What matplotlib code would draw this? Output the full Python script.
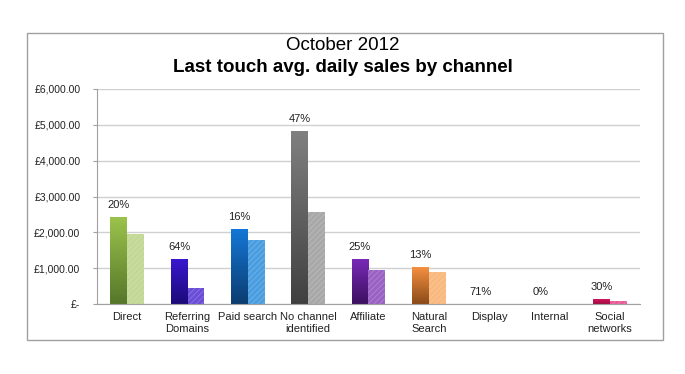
import numpy as np
import matplotlib
matplotlib.use('Agg')
import matplotlib.pyplot as plt
from matplotlib.colors import LinearSegmentedColormap
from matplotlib.patches import Rectangle
from matplotlib.ticker import FuncFormatter

channels = ['Direct', 'Referring\nDomains', 'Paid search', 'No channel\nidentified',
            'Affiliate', 'Natural\nSearch', 'Display', 'Internal', 'Social\nnetworks']
sales_main = [2430, 1260, 2095, 4830, 1260, 1030, 0, 0, 140]
sales_second = [1960, 450, 1790, 2570, 950, 890, 0, 0, 85]
pct_labels = ['20%', '64%', '16%', '47%', '25%', '13%', '71%', '0%', '30%']

# gradient colours (top, bottom) for the main bars, flat colours for second bars
main_top = ['#9cc44c', '#3a18d0', '#1478d8', '#808080', '#7a2ab8', '#f59040', '#999999', '#999999', '#d81860']
main_bottom = ['#56762a', '#1c0a78', '#0c3c70', '#404040', '#3c1060', '#8a4a18', '#555555', '#555555', '#a00c40']
second_col = ['#c2d894', '#6a4ed8', '#4a9ee0', '#a8a8a8', '#9a62c4', '#f8b87e', '#cccccc', '#cccccc', '#ec5a98']

plt.rcParams['font.family'] = ['Liberation Sans', 'DejaVu Sans']
plt.rcParams['hatch.linewidth'] = 0.5

fig = plt.figure(figsize=(6.85, 3.74), dpi=100)
fig.patches.append(Rectangle((27 / 685, 1 - 340 / 374), 636 / 685, 307 / 374,
                             transform=fig.transFigure, fill=False, edgecolor='#a0a0a0', lw=1))
ax = fig.add_axes([97 / 685, 1 - 304 / 374, 543 / 685, 215 / 374])

x = np.arange(len(channels))
w = 0.28
grad = np.linspace(0, 1, 256).reshape(-1, 1)
for i in range(len(channels)):
    v = sales_main[i]
    if v > 0:
        b = ax.bar(x[i] - w / 2, v, w, color='none', zorder=2)[0]
        cmap = LinearSegmentedColormap.from_list('g%d' % i, [main_bottom[i], main_top[i]])
        im = ax.imshow(grad, extent=(x[i] - w, x[i], 0, v), origin='lower',
                       aspect='auto', cmap=cmap, zorder=2)
        im.set_clip_path(b)
    if sales_second[i] > 0:
        ax.bar(x[i] + w / 2, sales_second[i], w, color=second_col[i], zorder=2,
               hatch='//////', edgecolor=(1, 1, 1, 0.25), linewidth=0)
    ax.annotate(pct_labels[i], (x[i] - w / 2, v),
                xytext=(0, 5), textcoords='offset points', ha='center', va='bottom',
                fontsize=8, color='#222222')

ax.set_xlim(-0.5, len(channels) - 0.5)
ax.set_ylim(0, 6000)
ax.set_yticks(np.arange(0, 6001, 1000))
ax.yaxis.set_major_formatter(FuncFormatter(lambda v, p: '£-' if v == 0 else '£{:,.2f}'.format(v)))
ax.set_xticks(x)
ax.set_xticklabels(channels, fontsize=8, color='#222222')
ax.tick_params(axis='x', length=0, pad=6)
ax.tick_params(axis='y', labelsize=7.5, colors='#222222', length=3, color='#a0a0a0', pad=9)
ax.grid(axis='y', color='#d0d0d0', lw=1, zorder=0)
ax.set_axisbelow(True)
for s in ['top', 'right']:
    ax.spines[s].set_visible(False)
for s in ['left', 'bottom']:
    ax.spines[s].set_color('#a0a0a0')

fig.text(0.5, 1 - 45 / 374, 'October 2012', ha='center', va='center', fontsize=13.5)
fig.text(0.5, 1 - 68 / 374, 'Last touch avg. daily sales by channel', ha='center',
         va='center', fontsize=13.5, fontweight='bold')

fig.savefig('out.png', dpi=100)
